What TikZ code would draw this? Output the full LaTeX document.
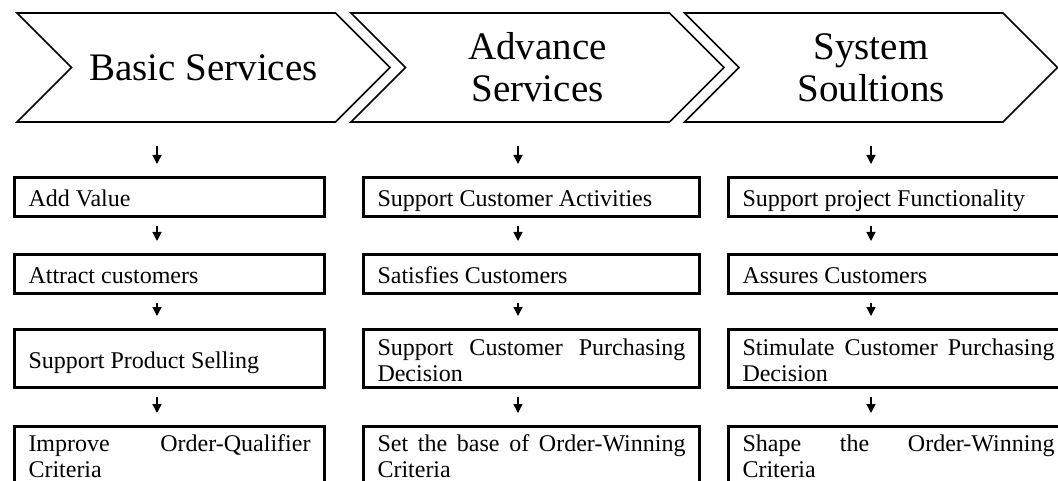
\documentclass[tikz,border=0pt]{standalone}
\usepackage{fontspec}
\setmainfont{Liberation Serif}
\usetikzlibrary{shapes.symbols, arrows.meta}

\tikzset{
  stage/.style={signal, signal from=west, signal to=east, draw, line width=1.6pt,
    minimum width=373pt, minimum height=109pt, inner sep=0pt, align=center,
    font=\fontsize{39}{42}\selectfont},
  effect/.style={draw, line width=3pt, anchor=north west, inner xsep=14pt, inner ysep=3pt,
    align=justify, minimum height=39pt, text height=22pt, text depth=3pt,
    font=\fontsize{24}{26}\selectfont},
  tall/.style={minimum height=58pt},
  twolines/.style={text depth=29pt},
  lastbox/.style={text depth=60pt},
  flow/.style={-{Triangle[width=9pt,length=9pt]}, line width=1.3pt,
    shorten <=8pt, shorten >=12pt}
}

\begin{document}
\begin{tikzpicture}[x=1pt, y=-1pt]
  \clip (0, 0) rectangle (1058, 481);

  % stages
  \node[stage] (s1) at (203.5, 67.5) {Basic Services};
  \node[stage] (s2) at (537.5, 67.5) {Advance\\Services};
  \node[stage] (s3) at (871, 67.5) {System\\Soultions};

  % arrow columns
  \coordinate (a1) at (157, 0);
  \coordinate (a2) at (518, 0);
  \coordinate (a3) at (871, 0);

  % basic services
  \node[effect, text width=282pt] (b11) at (13, 176) {Add Value};
  \node[effect, text width=282pt] (b12) at (13, 253) {Attract customers};
  \node[effect, tall, text width=282pt] (b13) at (13, 328) {Support Product Selling};
  \node[effect, lastbox, text width=282pt] (b14) at (13, 425) {Improve Order-Qualifier\linebreak Criteria};

  % advance services
  \node[effect, text width=308pt] (b21) at (362, 176) {Support Customer Activities};
  \node[effect, text width=308pt] (b22) at (362, 253) {Satisfies Customers};
  \node[effect, tall, twolines, text width=308pt] (b23) at (362, 328) {Support Customer Purchasing\linebreak Decision};
  \node[effect, lastbox, text width=308pt] (b24) at (362, 425) {Set the base of Order-Winning\linebreak Criteria};

  % system solutions
  \node[effect, text width=312pt] (b31) at (727, 176) {Support project Functionality};
  \node[effect, text width=312pt] (b32) at (727, 253) {Assures Customers};
  \node[effect, tall, twolines, text width=312pt] (b33) at (727, 328) {Stimulate Customer Purchasing\linebreak Decision};
  \node[effect, lastbox, text width=312pt] (b34) at (727, 425) {Shape the Order-Winning\linebreak Criteria};

  % arrows
  \draw[flow, shorten <=23pt] (s1.south -| a1) -- (b11.north -| a1);
  \draw[flow] (b11.south -| a1) -- (b12.north -| a1);
  \draw[flow] (b12.south -| a1) -- (b13.north -| a1);
  \draw[flow] (b13.south -| a1) -- (b14.north -| a1);

  \draw[flow, shorten <=23pt] (s2.south -| a2) -- (b21.north -| a2);
  \draw[flow] (b21.south -| a2) -- (b22.north -| a2);
  \draw[flow] (b22.south -| a2) -- (b23.north -| a2);
  \draw[flow] (b23.south -| a2) -- (b24.north -| a2);

  \draw[flow, shorten <=23pt] (s3.south -| a3) -- (b31.north -| a3);
  \draw[flow] (b31.south -| a3) -- (b32.north -| a3);
  \draw[flow] (b32.south -| a3) -- (b33.north -| a3);
  \draw[flow] (b33.south -| a3) -- (b34.north -| a3);
\end{tikzpicture}
\end{document}
